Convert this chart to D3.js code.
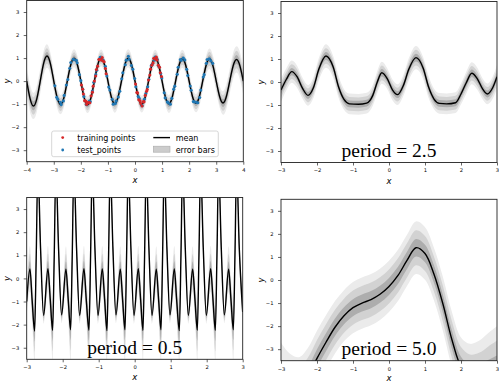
<!DOCTYPE html>
<html><head><meta charset="utf-8">
<script src="https://cdn.jsdelivr.net/npm/d3@7"></script>
<style>body{margin:0;background:#fff}svg{display:block}</style>
</head><body><svg id="c" width="499" height="383"></svg>
<script>
// ---------- DATA ----------
const yTicks = [-3,-2,-1,0,1,2,3];
const xTicksWide = [-4,-3,-2,-1,0,1,2,3,4];
const xTicks = [-3,-2,-1,0,1,2,3];

// Panel 1 (full fit)
const p1X = [-4,-3.875,-3.75,-3.625,-3.5,-3.375,-3.25,-3.125,-3,-2.875,-2.75,-2.625,-2.5,-2.375,-2.25,-2.125,-2,-1.875,-1.75,-1.625,-1.5,-1.375,-1.25,-1.125,-1,-0.875,-0.75,-0.625,-0.5,-0.375,-0.25,-0.125,0,0.125,0.25,0.375,0.5,0.625,0.75,0.875,1,1.125,1.25,1.375,1.5,1.625,1.75,1.875,2,2.125,2.25,2.375,2.5,2.625,2.75,2.875,3,3.125,3.25,3.375,3.5,3.625,3.75,3.875,4];
const p1Mean = [0,-0.76,-1.08,-0.76,0,0.77,1.09,0.76,0,-0.72,-1.02,-0.72,0,0.70,0.99,0.70,0,-0.73,-1.03,-0.72,0,0.71,1.01,0.70,0,-0.69,-0.98,-0.69,0,0.70,0.99,0.70,0,-0.71,-1.00,-0.70,0,0.71,1.00,0.70,0,-0.70,-0.99,-0.70,0,0.68,0.97,0.68,0,-0.68,-0.96,-0.68,0,0.68,0.97,0.68,0,-0.67,-0.95,-0.67,0,0.66,0.94,0.66,0];
const p1Sd = [0.20,0.20,0.19,0.19,0.18,0.18,0.17,0.16,0.15,0.15,0.14,0.14,0.13,0.13,0.13,0.13,0.12,0.12,0.12,0.12,0.12,0.12,0.12,0.12,0.12,0.12,0.13,0.13,0.13,0.13,0.13,0.13,0.12,0.12,0.12,0.12,0.12,0.12,0.12,0.12,0.12,0.12,0.13,0.13,0.13,0.13,0.13,0.13,0.13,0.13,0.13,0.14,0.14,0.14,0.15,0.15,0.16,0.16,0.17,0.18,0.18,0.19,0.19,0.20,0.20];

const trainX = [-1.98,-1.932,-1.906,-1.86,-1.812,-1.786,-1.74,-1.692,-1.666,-1.62,-1.572,-1.546,-1.50,-1.452,-1.426,-1.38,-1.332,-1.306,-1.26,-1.212,-1.186,-1.14,-1.092,-1.066,0.02,0.068,0.094,0.14,0.188,0.214,0.26,0.308,0.334,0.38,0.428,0.454,0.50,0.548,0.574,0.62,0.668,0.694,0.74,0.788,0.814,0.86,0.908,0.934,0.98];
const trainY = [-0.17,-0.35,-0.56,-0.85,-0.88,-1.01,-0.93,-0.94,-0.94,-0.64,-0.48,-0.22,0.00,0.22,0.50,0.65,0.94,0.94,0.92,1.02,0.88,0.84,0.55,0.32,-0.13,-0.50,-0.51,-0.81,-0.86,-0.97,-1.08,-0.89,-0.90,-0.62,-0.44,-0.37,0.05,0.26,0.52,0.69,0.79,0.99,0.96,1.04,0.92,0.69,0.60,0.36,0.20];

const testX = [-2.96,-2.89,-2.85,-2.76,-2.725,-2.645,-2.615,-2.535,-2.48,-2.41,-2.37,-2.28,-2.245,-2.165,-2.135,-2.055,-2.00,-1.93,-1.89,-1.80,-1.765,-1.685,-1.655,-1.575,-1.52,-1.45,-1.41,-1.32,-1.285,-1.205,-1.175,-1.095,-1.04,-0.97,-0.93,-0.84,-0.805,-0.725,-0.695,-0.615,-0.56,-0.49,-0.45,-0.36,-0.325,-0.245,-0.215,-0.135,-0.08,-0.01,0.03,0.12,0.155,0.235,0.265,0.345,0.40,0.47,0.51,0.60,0.635,0.715,0.745,0.825,0.88,0.95,0.99,1.08,1.115,1.195,1.225,1.305,1.36,1.43,1.47,1.56,1.595,1.675,1.705,1.785,1.84,1.91,1.95,2.04,2.075,2.155,2.185,2.265,2.32,2.39,2.43,2.52,2.555,2.635,2.665,2.745,2.80,2.87];
const testY = [-0.20,-0.70,-0.79,-0.92,-1.02,-0.86,-0.62,-0.17,0.07,0.56,0.81,0.95,0.93,0.90,0.80,0.28,0.02,-0.35,-0.67,-1.02,-0.96,-0.87,-0.89,-0.43,-0.05,0.28,0.47,0.95,1.03,0.90,0.91,0.64,0.22,-0.26,-0.39,-0.79,-1.00,-0.97,-0.86,-0.69,-0.44,0.10,0.36,0.71,0.91,1.08,0.95,0.68,0.52,0.11,-0.25,-0.67,-0.75,-1.03,-1.07,-0.79,-0.54,-0.25,0.08,0.67,0.72,0.91,1.04,0.94,0.63,0.33,0.14,-0.51,-0.73,-0.90,-0.94,-1.00,-0.75,-0.35,-0.22,0.30,0.60,0.94,0.90,1.00,0.92,0.51,0.24,-0.21,-0.40,-0.89,-0.90,-0.92,-0.94,-0.71,-0.39,0.18,0.28,0.77,0.94,0.97,0.88,0.77];

// Panel 2 (period = 2.5)
const p2X = [-3.0,-2.85,-2.7,-2.55,-2.4,-2.25,-2.1,-1.95,-1.75,-1.55,-1.4,-1.25,-1.1,-0.85,-0.62,-0.45,-0.32,-0.2,-0.05,0.1,0.24,0.4,0.55,0.75,0.95,1.1,1.25,1.4,1.6,1.85,2.0,2.15,2.3,2.45,2.6,2.73,2.88,3.0];
const p2Mean = [-0.35,0.12,0.45,0.22,-0.28,-0.58,-0.25,0.55,1.13,0.65,-0.22,-0.76,-0.95,-0.97,-0.92,-0.58,0.02,0.40,0.15,-0.35,-0.55,-0.15,0.55,1.06,0.6,-0.22,-0.74,-0.93,-0.95,-0.9,-0.52,-0.02,0.38,0.15,-0.3,-0.52,-0.25,0.23];
const p2Sd = [0.17,0.16,0.16,0.16,0.15,0.15,0.15,0.16,0.17,0.16,0.16,0.15,0.15,0.15,0.15,0.15,0.16,0.16,0.15,0.15,0.15,0.15,0.16,0.17,0.16,0.16,0.15,0.15,0.15,0.15,0.15,0.16,0.16,0.16,0.15,0.15,0.16,0.17];

// Panel 3 (period = 0.5)
const p3X = [-3.00,-2.91,-2.85,-2.78,-2.735,-2.69,-2.615,-2.53,-2.41,-2.345,-2.28,-2.235,-2.19,-2.115,-2.03,-1.91,-1.845,-1.78,-1.735,-1.69,-1.615,-1.53,-1.41,-1.345,-1.27,-1.225,-1.18,-1.105,-1.02,-0.90,-0.835,-0.77,-0.725,-0.68,-0.605,-0.52,-0.40,-0.335,-0.27,-0.225,-0.18,-0.105,-0.02,0.10,0.165,0.23,0.275,0.32,0.395,0.48,0.60,0.665,0.73,0.775,0.82,0.895,0.98,1.10,1.165,1.24,1.285,1.33,1.405,1.49,1.61,1.675,1.74,1.785,1.83,1.905,1.99,2.11,2.175,2.24,2.285,2.33,2.405,2.49,2.61,2.675,2.74,2.785,2.83,2.905,3.00];
const p3Mean = [-1.00,0.41,-0.92,-2.28,1.00,4.80,1.30,-1.60,0.42,-0.92,-2.25,1.00,4.80,1.30,-1.58,0.40,-0.95,-2.22,1.00,4.80,1.30,-1.60,0.42,-0.93,-2.24,1.00,4.80,1.30,-1.60,0.41,-0.92,-2.26,1.00,4.80,1.30,-1.58,0.40,-0.94,-2.22,1.00,4.80,1.30,-1.60,0.42,-0.93,-2.25,1.00,4.80,1.30,-1.60,0.40,-0.94,-2.22,1.00,4.80,1.30,-1.58,0.41,-0.92,-2.26,1.00,4.80,1.30,-1.60,0.40,-0.94,-2.24,1.00,4.80,1.30,-1.60,0.42,-0.93,-2.25,1.00,4.80,1.30,-1.58,0.40,-0.94,-2.22,1.00,4.80,1.30,-1.45];
const p3Sd = [0.20,0.33,0.30,0.45,0.30,0.30,0.25,0.12,0.33,0.30,0.45,0.30,0.30,0.25,0.12,0.33,0.30,0.45,0.30,0.30,0.25,0.12,0.33,0.30,0.45,0.30,0.30,0.25,0.12,0.33,0.30,0.45,0.30,0.30,0.25,0.12,0.33,0.30,0.45,0.30,0.30,0.25,0.12,0.33,0.30,0.45,0.30,0.30,0.25,0.12,0.33,0.30,0.45,0.30,0.30,0.25,0.12,0.33,0.30,0.45,0.30,0.30,0.25,0.12,0.33,0.30,0.45,0.30,0.30,0.25,0.12,0.33,0.30,0.45,0.30,0.30,0.25,0.12,0.33,0.30,0.45,0.30,0.30,0.25,0.15];

// Panel 4 (period = 5.0)
const p4X = [-3,-2.75,-2.5,-2.25,-2,-1.75,-1.5,-1.25,-1,-0.75,-0.5,-0.25,0,0.25,0.5,0.75,1,1.25,1.5,1.75,2,2.25,2.5,2.75,3];
const p4Mean = [-4.9,-4.85,-4.7,-4.2,-3.4,-2.7,-2.05,-1.55,-1.2,-1.0,-0.85,-0.62,-0.28,0.2,0.85,1.4,1.15,0.25,-1.05,-2.6,-3.75,-4.15,-4.2,-4.05,-3.9];
const p4Sd = [0.73,0.55,0.45,0.42,0.40,0.39,0.38,0.37,0.37,0.37,0.37,0.37,0.37,0.37,0.37,0.38,0.38,0.38,0.39,0.40,0.42,0.46,0.52,0.58,0.63];

const titles = ["period = 2.5","period = 0.5","period = 5.0"];
const legendLabels = ["training points","test_points","mean","error bars"];
const colTrain = "#d62728", colTest = "#1f77b4";

// ---------- DRAW ----------
const svg = d3.select('#c');
const bandFill = ['#ebebeb','#d2d2d2','#adadad'];
const FONT = "DejaVu Sans";

function panel(cfg){
  const {id,x0,y0,w,h,xdom,xticks,xs,mean,sd,curve,title} = cfg;
  const x = d3.scaleLinear().domain(xdom).range([x0,x0+w]);
  const y = d3.scaleLinear().domain([-3.5,3.5]).range([y0+h,y0]);
  svg.append('clipPath').attr('id',id).append('rect')
    .attr('x',x0).attr('y',y0).attr('width',w).attr('height',h);
  const g = svg.append('g');
  const pg = g.append('g').attr('clip-path',`url(#${id})`);
  const data = xs.map((v,i)=>({x:v,m:mean[i],s:sd[i]}));
  [3,2,1].forEach((k,j)=>{
    pg.append('path').datum(data).attr('fill',bandFill[j])
      .attr('d', d3.area().curve(curve).x(d=>x(d.x)).y0(d=>y(d.m-k*d.s)).y1(d=>y(d.m+k*d.s)));
  });
  pg.append('path').datum(data).attr('fill','none').attr('stroke','#000').attr('stroke-width',1.4)
    .attr('d', d3.line().curve(curve).x(d=>x(d.x)).y(d=>y(d.m)));
  if (cfg.points) cfg.points(pg,x,y);
  // axes
  const fmt = d3.format('d');
  const xa = g.append('g').attr('transform',`translate(0,${y0+h})`)
    .call(d3.axisBottom(x).tickValues(xticks).tickSize(3).tickPadding(3.2).tickFormat(fmt));
  const ya = g.append('g').attr('transform',`translate(${x0},0)`)
    .call(d3.axisLeft(y).tickValues(yTicks).tickSize(3).tickPadding(4.5).tickFormat(fmt));
  [xa,ya].forEach(a=>{
    a.select('.domain').remove();
    a.selectAll('line').attr('stroke','#222').attr('stroke-width',0.7);
    a.selectAll('text').attr('font-family',FONT).attr('font-size',5.2).attr('fill','#000');
  });
  g.append('rect').attr('x',x0).attr('y',y0).attr('width',w).attr('height',h)
    .attr('fill','none').attr('stroke','#222').attr('stroke-width',0.9);
  g.append('text').attr('x',x0+w/2).attr('y',Math.min(y0+h+21,380.5)).attr('text-anchor','middle')
    .attr('font-family',FONT).attr('font-style','italic').attr('font-size',8.5).text('x');
  g.append('text').attr('transform',`translate(${x0-20},${y0+h/2}) rotate(-90)`)
    .attr('text-anchor','middle').attr('dominant-baseline','central')
    .attr('font-family',FONT).attr('font-style','italic').attr('font-size',8.5).text('y');
  if (title){
    g.append('text').attr('x',x0+w/2).attr('y',y0+h-5.5).attr('text-anchor','middle')
      .attr('font-family','Liberation Serif').attr('font-size',19.5).text(title);
  }
  return {x,y,g};
}

panel({id:'c1',x0:26.7,y0:0.5,w:216.6,h:161.2,xdom:[-4,4],xticks:xTicksWide,
  xs:p1X,mean:p1Mean,sd:p1Sd,curve:d3.curveNatural,
  points:(pg,x,y)=>{
    pg.selectAll('.te').data(testX).join('circle').attr('cx',d=>x(d)).attr('cy',(d,i)=>y(testY[i])).attr('r',1.55).attr('fill',colTest);
    pg.selectAll('.tr').data(trainX).join('circle').attr('cx',d=>x(d)).attr('cy',(d,i)=>y(trainY[i])).attr('r',1.55).attr('fill',colTrain);
  }});
panel({id:'c2',x0:281,y0:1.5,w:216,h:161,xdom:[-3,3],xticks:xTicks,
  xs:p2X,mean:p2Mean,sd:p2Sd,curve:d3.curveMonotoneX,title:titles[0]});
panel({id:'c3',x0:26.7,y0:197.5,w:216,h:161.8,xdom:[-3,3],xticks:xTicks,
  xs:p3X,mean:p3Mean,sd:p3Sd,curve:d3.curveMonotoneX,title:titles[1]});
panel({id:'c4',x0:281,y0:199.3,w:216,h:161.4,xdom:[-3,3],xticks:xTicks,
  xs:p4X,mean:p4Mean,sd:p4Sd,curve:d3.curveCatmullRom,title:titles[2]});

// legend in panel 1
const lg = svg.append('g');
lg.append('rect').attr('x',51.7).attr('y',131).attr('width',166.6).attr('height',25.7).attr('rx',2)
  .attr('fill','#fff').attr('fill-opacity',0.85).attr('stroke','#cccccc').attr('stroke-width',0.8);
lg.append('circle').attr('cx',62.7).attr('cy',137.6).attr('r',1.4).attr('fill',colTrain);
lg.append('circle').attr('cx',62.7).attr('cy',150).attr('r',1.4).attr('fill',colTest);
lg.append('line').attr('x1',153.3).attr('x2',170).attr('y1',137.6).attr('y2',137.6).attr('stroke','#000').attr('stroke-width',1.4);
lg.append('rect').attr('x',153.3).attr('y',146.2).attr('width',16.7).attr('height',6).attr('fill','#cccccc').attr('stroke','#aaaaaa').attr('stroke-width',0.6);
[[77.3,140.6,0],[77.3,153,1],[175.7,140.6,2],[175.7,153,3]].forEach(([tx,ty,i])=>{
  lg.append('text').attr('x',tx).attr('y',ty).attr('font-family',FONT).attr('font-size',8).text(legendLabels[i]);
});
</script></body></html>
